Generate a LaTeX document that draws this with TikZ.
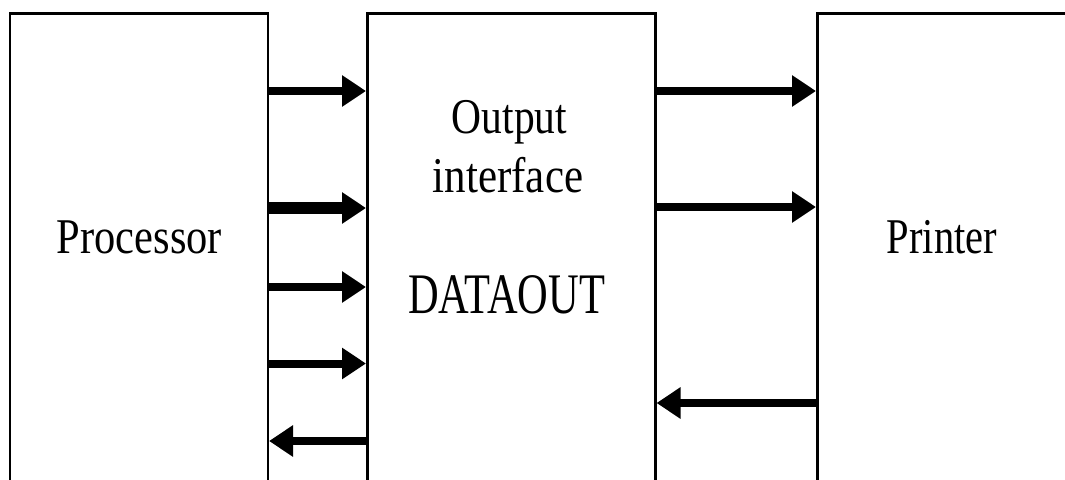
\documentclass[tikz,border=0pt]{standalone}
\usepackage{fontspec}
\setmainfont{Liberation Serif}
\usetikzlibrary{arrows.meta}
\tikzset{
  box/.style={draw=black, line width=1.9pt, rectangle, inner sep=0pt, anchor=north west},
  arr/.style={line width=6pt, -{Triangle[length=18pt,width=22.5pt]}},
  arrthick/.style={line width=8.5pt, -{Triangle[length=18pt,width=22.5pt]}},
  lbl/.style={anchor=base, inner sep=0pt, font=\fontsize{37.5}{40}\selectfont}
}
\begin{document}
\begin{tikzpicture}[x=0.75pt,y=-0.75pt]
\useasboundingbox (0,0) rectangle (1065,479);
\clip (0,0) rectangle (1065,479);
\node[box, minimum width=257.8*0.75pt, minimum height=500*0.75pt] (proc) at (8.7,12) {};
\node[box, minimum width=288*0.75pt, minimum height=500*0.75pt] (iface) at (366,12) {};
\node[box, minimum width=300*0.75pt, minimum height=500*0.75pt] (prn) at (816,12) {};
% labels
\node[lbl] (tproc) at (139.5,253) {\scalebox{0.85}[1]{Processor}};
\node[lbl] (tprn) at (942,253) {\scalebox{0.81}[1]{Printer}};
\node[lbl] (tout) at (509.5,133) {\scalebox{0.83}[1]{Output}};
\node[lbl] (tint) at (508,192) {\scalebox{0.86}[1]{interface}};
\node[lbl, font=\fontsize{43}{46}\selectfont] (tdata) at (506.5,313) {\scalebox{0.74}[1]{DATAOUT}};
% processor -> interface
\draw[arr] (proc.east |- 0,91) -- (iface.west |- 0,91);
\draw[arrthick] (proc.east |- 0,208) -- (iface.west |- 0,208);
\draw[arr] (proc.east |- 0,287) -- (iface.west |- 0,287);
\draw[arr] (proc.east |- 0,363.5) -- (iface.west |- 0,363.5);
\draw[arr] (iface.west |- 0,441) -- (proc.east |- 0,441);
% interface <-> printer
\draw[arr] (iface.east |- 0,91) -- (prn.west |- 0,91);
\draw[arr] (iface.east |- 0,207) -- (prn.west |- 0,207);
\draw[arr] (prn.west |- 0,403) -- (iface.east |- 0,403);
\end{tikzpicture}
\end{document}
